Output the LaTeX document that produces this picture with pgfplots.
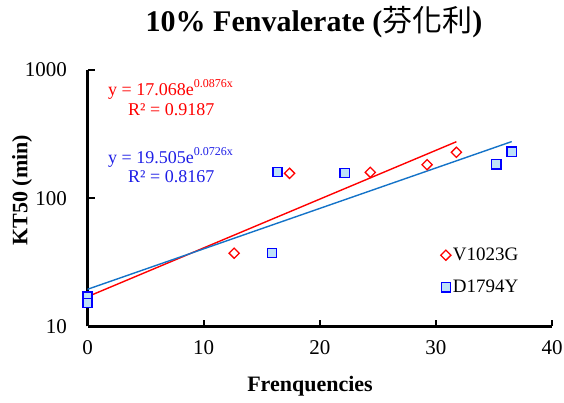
\documentclass[border=0pt]{standalone}
\usepackage{fontspec}
\setmainfont{Liberation Serif}
\newfontfamily\cjk{Noto Sans CJK TC}
\usepackage{pgfplots}
\pgfplotsset{compat=1.18}
\definecolor{trendblue}{RGB}{20,115,200}
\definecolor{eqblue}{RGB}{30,30,230}
\definecolor{sqfill}{RGB}{190,225,248}
\begin{document}
\begin{tikzpicture}
\path[use as bounding box] (0,0) rectangle (564bp,403bp);
\begin{axis}[
  at={(87.5bp,76.5bp)}, anchor=south west,
  scale only axis, width=464.5bp, height=256.5bp,
  ymode=log, xmin=0, xmax=40, ymin=10, ymax=1000,
  axis x line=bottom, axis y line=left,
  axis line style={-, line width=2.6bp, black},
  x axis line style={-, line width=2.6bp, black},
  y axis line style={-, line width=2.6bp, black},
  xtick={0,10,20,30,40}, xticklabels={0,10,20,30,40},
  ytick={10,100,1000}, yticklabels={10,100,1000},
  minor ytick={}, yminorticks=false,
  tick align=inside, major tick length=7bp,
  tick style={line width=2.2bp, black},
  major tick style={line width=2.2bp, black},
  tick label style={font=\fontsize{21bp}{21bp}\selectfont},
  xticklabel style={yshift=-11bp},
  yticklabel style={xshift=-17bp},
  xlabel={\bfseries Frenquencies},
  ylabel={\bfseries KT50 (min)},
  label style={font=\fontsize{22bp}{22bp}\selectfont},
  xlabel style={at={(axis description cs:0.479,0)}, anchor=center, yshift=-60bp},
  ylabel style={at={(axis description cs:-0.141,0.532)}, anchor=center},
  clip=false,
  legend style={draw=none, fill=none, at={(axis description cs:0.76,0.314)}, anchor=north west,
    font=\fontsize{19bp}{19bp}\selectfont, row sep=14bp, inner sep=0pt},
  legend cell align=left,
]
% trend lines (exponential fits, straight on log axis)
\addplot[red, line width=1.4bp, forget plot] coordinates {(0,17.068) (31.77,276.0)};
\addplot[trendblue, line width=1.4bp, forget plot] coordinates {(0,19.505) (36.53,276.6)};
% data
\addplot[only marks, mark=square*, mark size=3.6bp, mark options={rotate=45, draw=red, fill=white, line width=1.3bp}]
  coordinates {(12.63,37.3) (17.4,156.5) (24.35,159.3) (29.24,182.6) (31.77,228.2)};
\addlegendentry{V1023G}
\addplot[only marks, mark=square*, mark size=4.6bp, mark options={draw=blue, fill=sqfill, line width=1.3bp}]
  coordinates {(0,17.1) (0,15.2) (15.88,37.3) (16.36,160.2) (22.14,157.4) (35.2,184) (36.53,230.7)};
\addlegendentry{D1794Y}
\end{axis}
\node[font=\fontsize{30bp}{30bp}\selectfont\bfseries] at (314bp,381bp) {10\% Fenvalerate ({\cjk\mdseries 芬化利})};
\node[anchor=base west, text=red, font=\fontsize{18bp}{18bp}\selectfont, inner sep=0pt] at (108bp,307bp)
  {y = 17.068e\raisebox{0.45em}{\fontsize{12bp}{12bp}\selectfont 0.0876x}};
\node[anchor=base west, text=red, font=\fontsize{18bp}{18bp}\selectfont, inner sep=0pt] at (128bp,287bp) {R² = 0.9187};
\node[anchor=base west, text=eqblue, font=\fontsize{18bp}{18bp}\selectfont, inner sep=0pt] at (108bp,239bp)
  {y = 19.505e\raisebox{0.45em}{\fontsize{12bp}{12bp}\selectfont 0.0726x}};
\node[anchor=base west, text=eqblue, font=\fontsize{18bp}{18bp}\selectfont, inner sep=0pt] at (128bp,220bp) {R² = 0.8167};
\end{tikzpicture}
\end{document}
